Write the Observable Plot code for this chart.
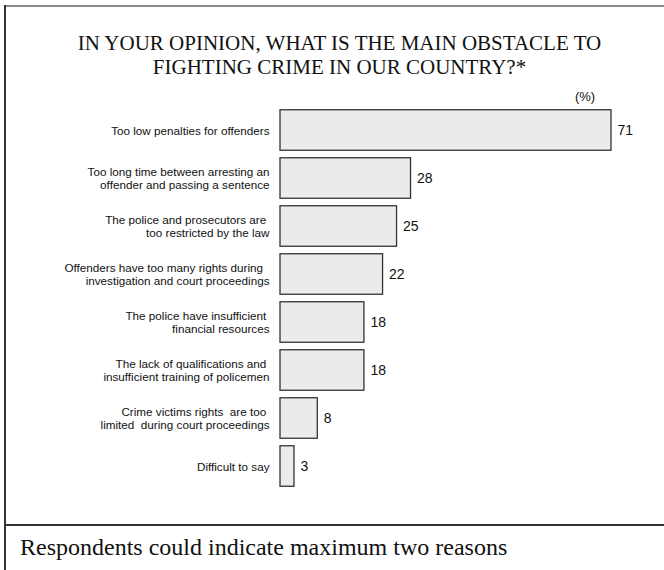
<!DOCTYPE html>
<html>
<head>
<meta charset="utf-8">
<script src="https://cdn.jsdelivr.net/npm/d3@7"></script>
<script src="https://cdn.jsdelivr.net/npm/@observablehq/plot@0.6"></script>
<style>
  body { margin: 0; background: #fff; }
  #wrap { position: relative; width: 664px; height: 570px; overflow: hidden; background: #fff; }
  .line { position: absolute; }
  #title {
    position: absolute; left: 5px; right: 0; top: 31px;
    font-family: "Liberation Serif", "Times New Roman", serif;
    font-size: 21px; line-height: 24px; text-align: center; color: #111;
    padding-left: 10px;
  }
  #unit {
    position: absolute; left: 560px; width: 50px; top: 89px;
    font-family: "Liberation Sans", Arial, sans-serif;
    font-size: 13px; line-height: 15px; text-align: center; color: #111;
  }
  #caption {
    position: absolute; left: 20px; top: 533px;
    font-family: "Liberation Serif", "Times New Roman", serif;
    font-size: 24px; line-height: 28px; color: #111; white-space: nowrap;
  }
  #chart { position: absolute; left: 0; top: 0; }
  #chart svg text { white-space: pre; }
</style>
</head>
<body>
<div id="wrap">
  <div id="chart"></div>
  <div class="line" style="left:5px;right:0;top:5px;height:2px;background:#8a8a8a"></div>
  <div class="line" style="left:4px;top:5px;bottom:0;width:2px;background:#333"></div>
  <div class="line" style="left:5px;right:0;top:524px;height:2px;background:#333"></div>
  <div id="title">IN YOUR OPINION, WHAT IS THE MAIN OBSTACLE TO<br>FIGHTING CRIME IN OUR COUNTRY?*</div>
  <div id="unit">(%)</div>
  <div id="caption">Respondents could indicate maximum two reasons</div>
</div>
<script>
// Survey answers, in the order they are listed
const reasons = [
  "Too low penalties for offenders",
  "Too long time between arresting an\noffender and passing a sentence",
  "The police and prosecutors are \ntoo restricted by the law",
  "Offenders have too many rights during  \ninvestigation and court proceedings",
  "The police have insufficient \nfinancial resources",
  "The lack of qualifications and \ninsufficient training of policemen",
  "Crime victims rights  are too \nlimited  during court proceedings",
  "Difficult to say"
];
// Share of respondents naming each reason (%)
const shares = [71, 28, 25, 22, 18, 18, 8, 3];

const rows = reasons.map((reason, i) => ({reason, share: shares[i]}));

const sans = "'Liberation Sans', Arial, sans-serif";

const chart = Plot.plot({
  width: 664,
  height: 570,
  marginLeft: 280,
  marginRight: 53,
  marginTop: 104.25,
  marginBottom: 77.75,
  x: {domain: [0, d3.max(shares)], axis: null},
  y: {domain: reasons, padding: 0, axis: null},
  style: {background: "transparent", color: "#111"},
  marks: [
    Plot.barX(rows, {
      x: "share", y: "reason",
      fill: "#ebebeb", stroke: "#333", strokeWidth: 1.3,
      insetTop: 3.75, insetBottom: 3.75
    }),
    Plot.text(rows, {
      x: 0, y: "reason", text: "reason",
      textAnchor: "end", dx: -11,
      fontSize: 11.7, lineHeight: 1.11, fontFamily: sans, fill: "#111"
    }),
    Plot.text(rows, {
      x: "share", y: "reason", text: d => String(d.share),
      textAnchor: "start", dx: 6,
      fontSize: 14, fontFamily: sans, fill: "#111"
    })
  ]
});
document.getElementById("chart").append(chart);
</script>
</body>
</html>
